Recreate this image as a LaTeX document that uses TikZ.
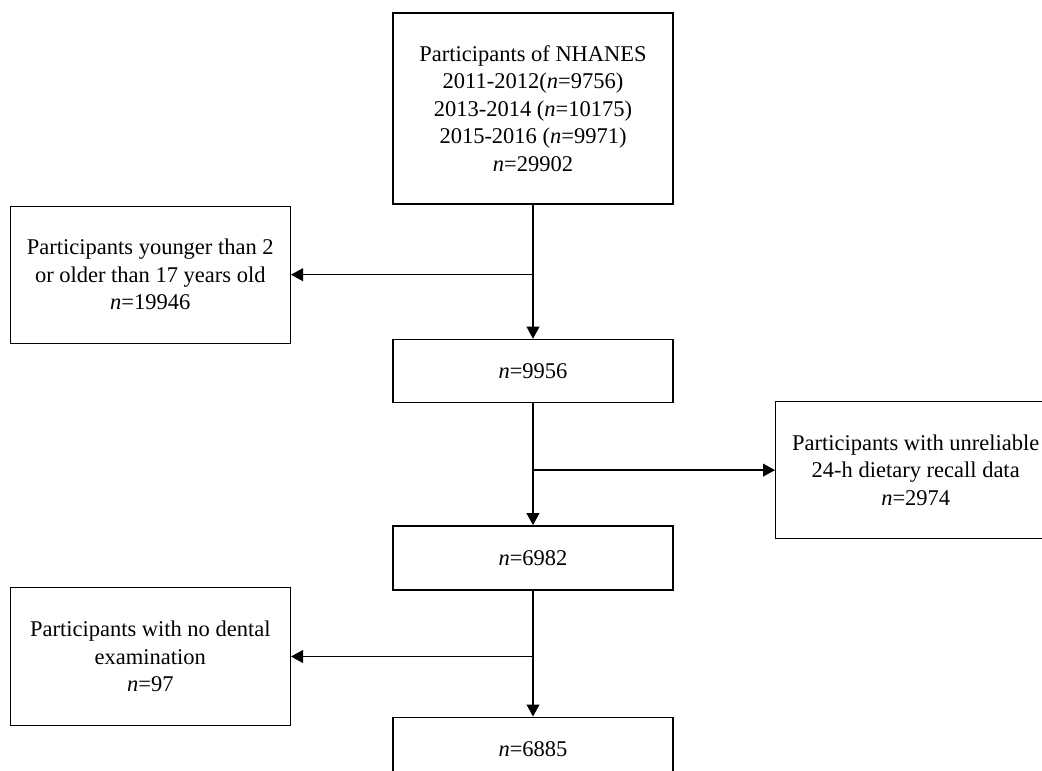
\documentclass[tikz,border=0pt]{standalone}
\usepackage{fontspec}
\setmainfont{Liberation Serif}
\usepackage{tikz}
\usetikzlibrary{positioning,calc,arrows.meta}

\tikzset{
    flowbox/.style={draw=black, line width=1pt, minimum width=7cm, align=center, inner sep=2pt,
        font=\fontsize{16}{19.5}\selectfont},
    exclbox/.style={flowbox, minimum height=3.425cm},
    flowarrow/.style={line width=1pt, -{Triangle[length=0.3cm,width=0.32cm]}},
}

\begin{document}
\begin{tikzpicture}
    \useasboundingbox (0,0) rectangle (26.05,-19.25);
    \clip (0,0) rectangle (26.05,-19.25);

    \node[flowbox, minimum height=4.775cm] (nhanes) at (13.325,-2.7125)
        {Participants of NHANES\\ 2011-2012(\textit{n}=9756)\\ 2013-2014 (\textit{n}=10175)\\ 2015-2016 (\textit{n}=9971)\\ \textit{n}=29902};
    \node[flowbox, minimum height=1.575cm, below = 3.35cm of nhanes] (aged) {\textit{n}=9956};
    \node[flowbox, minimum height=1.6cm, below = 3.05cm of aged] (dietary) {\textit{n}=6982};
    \node[flowbox, minimum height=1.575cm, below = 3.15cm of dietary] (dental) {\textit{n}=6885};

    \coordinate (splitAge) at ([yshift=-1.75cm]nhanes.south);
    \coordinate (splitDiet) at ([yshift=-1.675cm]aged.south);
    \coordinate (splitDental) at ([yshift=-1.65cm]dietary.south);

    \node[exclbox, anchor=east] (exclAge) at ($(splitAge)-(6.05,0)$)
        {Participants younger than 2\\ or older than 17 years old\\ \textit{n}=19946};
    \node[exclbox, anchor=west] (exclDiet) at ($(splitDiet)+(6.05,0)$)
        {Participants with unreliable\\ 24-h dietary recall data\\ \textit{n}=2974};
    \node[exclbox, minimum height=3.45cm, anchor=east] (exclDental) at ($(splitDental)-(6.05,0)$)
        {Participants with no dental\\ examination\\ \textit{n}=97};

    \draw[flowarrow] (nhanes.south) -- (aged.north);
    \draw[flowarrow] (aged.south) -- (dietary.north);
    \draw[flowarrow] (dietary.south) -- (dental.north);

    \draw[flowarrow] (splitAge) -- (exclAge.east);
    \draw[flowarrow] (splitDiet) -- (exclDiet.west);
    \draw[flowarrow] (splitDental) -- (exclDental.east);
\end{tikzpicture}
\end{document}
